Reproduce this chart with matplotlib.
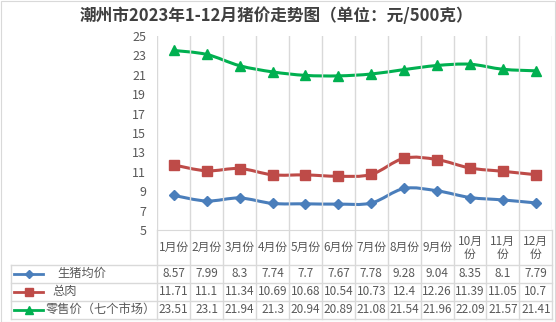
import matplotlib.pyplot as plt
from matplotlib.path import Path
from matplotlib.patches import PathPatch, Rectangle

plt.rcParams['font.family'] = ['Noto Sans CJK SC', 'DejaVu Sans']

months = ['1月份', '2月份', '3月份', '4月份', '5月份', '6月份', '7月份', '8月份', '9月份',
          '10月\n份', '11月\n份', '12月\n份']
hog = [8.57, 7.99, 8.3, 7.74, 7.7, 7.67, 7.78, 9.28, 9.04, 8.35, 8.1, 7.79]
pork = [11.71, 11.1, 11.34, 10.69, 10.68, 10.54, 10.73, 12.4, 12.26, 11.39, 11.05, 10.7]
retail = [23.51, 23.1, 21.94, 21.3, 20.94, 20.89, 21.08, 21.54, 21.96, 22.09, 21.57, 21.41]
series_names = ['生猪均价', '总肉', '零售价（七个市场）']
y_ticks = list(range(5, 26, 2))

colors = ['#4A7EBB', '#BE4B48', '#00B050']
markers = ['D', 's', '^']
msizes = [5.5, 6.5, 7.5]
key_sizes = [4.5, 6, 6]
label_x = [57, 52, 46]

W, H = 556, 322
grid_c = '#D9D9D9'
text_c = '#595959'

# plot area in pixels
x0, x1 = 157.3, 552.3
ytop, ybot = 36, 230
col_w = (x1 - x0) / len(months)
row_lines = [264.5, 282.5, 300.5, 318.5]

fig = plt.figure(figsize=(W / 100, H / 100), dpi=100)
fig.patches.append(Rectangle((0.5 / W, 0.5 / H), 1 - 1.5 / W, 1 - 1.5 / H, transform=fig.transFigure,
                             fill=False, edgecolor=grid_c, linewidth=0.8))

ax = fig.add_axes([x0 / W, 1 - ybot / H, (x1 - x0) / W, (ybot - ytop) / H])
ax.set_xlim(0, len(months))
ax.set_ylim(5, 25)
ax.set_yticks(y_ticks)
ax.set_xticks(range(len(months) + 1))
ax.set_xticklabels([])
ax.grid(axis='x', color=grid_c, linewidth=1)
ax.tick_params(length=0, labelsize=9, labelcolor=text_c, pad=8)
for s in ['top', 'right', 'left']:
    ax.spines[s].set_visible(False)
ax.spines['bottom'].set_color(grid_c)


def smooth_path(xs, ys):
    # Catmull-Rom curve turned into cubic bezier segments
    pts = list(zip(xs, ys))
    verts = [pts[0]]
    codes = [Path.MOVETO]
    n = len(pts)
    for i in range(n - 1):
        p0 = pts[max(i - 1, 0)]
        p1 = pts[i]
        p2 = pts[i + 1]
        p3 = pts[min(i + 2, n - 1)]
        c1 = (p1[0] + (p2[0] - p0[0]) / 6, p1[1] + (p2[1] - p0[1]) / 6)
        c2 = (p2[0] - (p3[0] - p1[0]) / 6, p2[1] - (p3[1] - p1[1]) / 6)
        verts += [c1, c2, p2]
        codes += [Path.CURVE4] * 3
    return Path(verts, codes)


xs = [i + 0.5 for i in range(len(months))]
for vals, c, m, ms in zip([hog, pork, retail], colors, markers, msizes):
    ax.add_patch(PathPatch(smooth_path(xs, vals), facecolor='none', edgecolor=c, linewidth=2.2,
                           capstyle='round', joinstyle='round'))
    ax.plot(xs, vals, linestyle='none', marker=m, markersize=ms, color=c)

# data table below the plot, drawn in pixel units
tab = fig.add_axes([0, 0, 1, 1], zorder=-1)
tab.set_xlim(0, W)
tab.set_ylim(H, 0)
tab.axis('off')

for i in range(len(months) + 1):
    xi = x0 + i * col_w
    tab.plot([xi, xi], [ybot, row_lines[-1]], color=grid_c, linewidth=1)
for yl in row_lines:
    tab.plot([10.7, x1], [yl, yl], color=grid_c, linewidth=1)
tab.plot([10.7, 10.7], [row_lines[0], row_lines[-1]], color=grid_c, linewidth=1)

for i, lab in enumerate(months):
    tab.text(x0 + (i + 0.5) * col_w, 247.5, lab, ha='center', va='center', fontsize=8.5,
             color=text_c, linespacing=1.0)

for r, vals in enumerate([hog, pork, retail]):
    yc = (row_lines[r] + row_lines[r + 1]) / 2
    for i, v in enumerate(vals):
        tab.text(x0 + (i + 0.5) * col_w, yc, f'{v:g}', ha='center', va='center', fontsize=8.5,
                 color=text_c)
    tab.plot([14, 43], [yc, yc], color=colors[r], linewidth=2)
    tab.plot([28.5], [yc], marker=markers[r], markersize=key_sizes[r], color=colors[r], linestyle='none')
    tab.text(label_x[r], yc, series_names[r], ha='left', va='center', fontsize=8.8, color=text_c)

fig.text(276 / W, 1 - 16 / H, '潮州市2023年1-12月猪价走势图（单位：元/500克）', ha='center', va='center',
         fontsize=12, fontweight='bold', color='#404040')

fig.savefig('out.png', dpi=100)
